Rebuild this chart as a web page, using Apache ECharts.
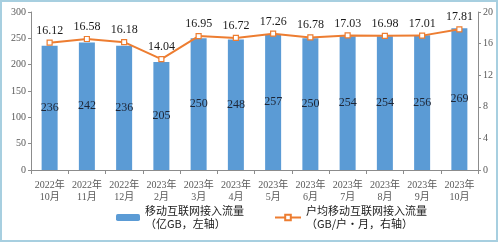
<!DOCTYPE html>
<html>
<head>
<meta charset="utf-8">
<script src="https://cdn.jsdelivr.net/npm/echarts@6/dist/echarts.min.js"></script>
<style>
  html, body { margin: 0; padding: 0; background: #fff; }
  #chart { width: 498px; height: 242px; }
</style>
</head>
<body>
<div id="chart"></div>
<script>
// 月份（两行：年 / 月）
var months = ['2022年\n10月', '2022年\n11月', '2022年\n12月', '2023年\n2月', '2023年\n3月', '2023年\n4月',
              '2023年\n5月', '2023年\n6月', '2023年\n7月', '2023年\n8月', '2023年\n9月', '2023年\n10月'];

// 移动互联网接入流量（亿GB）
var totalTraffic = [236, 242, 236, 205, 250, 248, 257, 250, 254, 254, 256, 269];

// 户均移动互联网接入流量（GB/户·月）
var perUserTraffic = [16.12, 16.58, 16.18, 14.04, 16.95, 16.72, 17.26, 16.78, 17.03, 16.98, 17.01, 17.81];

var barName = '移动互联网接入流量\n（亿GB，左轴）';
var lineName = '户均移动互联网接入流量\n（GB/户·月，右轴）';

var serifFont = '"Liberation Serif", "Noto Sans CJK SC", serif';
var cjkFont = '"Noto Sans CJK SC", sans-serif';
var axisColor = '#8c8c8c';
var labelColor = '#595959';

var chart = echarts.init(document.getElementById('chart'));

var legendText = {
    fontFamily: cjkFont,
    fontSize: 11,
    color: '#1a1a1a',
    lineHeight: 13,
    padding: [13, 0, 0, 0]
};

var option = {
    animation: false,
    graphic: [{
        type: 'rect',
        shape: { x: 1, y: 1, width: 496, height: 240 },
        style: { fill: 'none', stroke: '#a7cfe0', lineWidth: 2 },
        silent: true
    }],
    grid: { left: 31, right: 20, top: 12, bottom: 72 },
    legend: [
        {
            data: [barName],
            left: 111,
            top: 193,
            itemWidth: 24,
            itemHeight: 7,
            itemGap: 0,
            textStyle: legendText
        },
        {
            data: [lineName],
            left: 269,
            top: 193,
            itemWidth: 26,
            itemHeight: 7,
            textStyle: legendText
        }
    ],
    xAxis: {
        type: 'category',
        data: months,
        axisLine: { lineStyle: { color: axisColor } },
        axisTick: { show: true, length: 4, lineStyle: { color: axisColor } },
        axisLabel: {
            interval: 0,
            margin: 9,
            fontFamily: serifFont,
            fontSize: 10,
            lineHeight: 12,
            color: labelColor
        }
    },
    yAxis: [
        {
            type: 'value',
            min: 0,
            max: 300,
            interval: 50,
            splitLine: { show: false },
            axisLine: { show: true, lineStyle: { color: axisColor } },
            axisTick: { show: true, length: 3, lineStyle: { color: axisColor } },
            axisLabel: { margin: 5, fontFamily: serifFont, fontSize: 10, color: labelColor }
        },
        {
            type: 'value',
            min: 0,
            max: 20,
            interval: 4,
            splitLine: { show: false },
            axisLine: { show: true, lineStyle: { color: axisColor } },
            axisTick: { show: true, length: 3, lineStyle: { color: axisColor } },
            axisLabel: { margin: 5, fontFamily: serifFont, fontSize: 10, color: labelColor }
        }
    ],
    series: [
        {
            name: barName,
            type: 'bar',
            yAxisIndex: 0,
            data: totalTraffic,
            barWidth: 16,
            itemStyle: { color: '#5b9bd5' },
            label: {
                show: true,
                position: 'inside',
                fontFamily: serifFont,
                fontSize: 12,
                color: '#1d2535'
            }
        },
        {
            name: lineName,
            type: 'line',
            yAxisIndex: 1,
            data: perUserTraffic,
            symbol: 'rect',
            symbolSize: 5,
            itemStyle: { color: '#fff', borderColor: '#ed7d31', borderWidth: 1.2 },
            lineStyle: { color: '#ed7d31', width: 2 },
            label: {
                show: true,
                position: 'top',
                distance: 3,
                fontFamily: serifFont,
                fontSize: 12,
                color: '#1a1a1a'
            }
        }
    ]
};

chart.setOption(option);
</script>
</body>
</html>
